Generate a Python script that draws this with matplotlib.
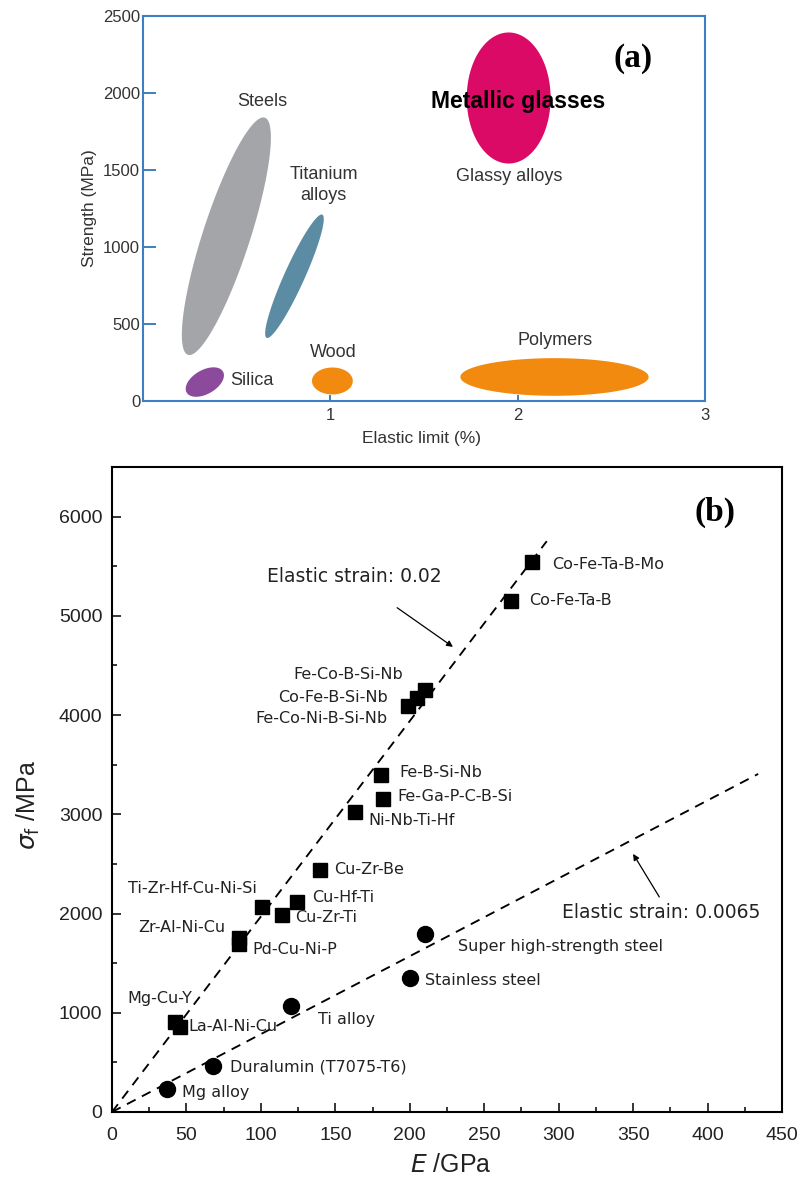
import matplotlib
matplotlib.use("Agg")
import matplotlib.pyplot as plt
import numpy as np

# ---- panel (a): material regions, elastic limit (%) vs strength (MPa)
region_names = ["Steels", "Titanium alloys", "Silica", "Wood", "Polymers", "Metallic glasses"]
region_start = [(0.24, 300), (0.66, 410), (0.233, 55), (0.902, 130), (1.694, 156), (1.952, 1542)]
region_end = [(0.65, 1840), (0.957, 1210), (0.427, 191), (1.120, 130), (2.699, 156), (1.952, 2393)]
region_aspect = [0.19, 0.15, 0.57, 0.66, 0.20, 0.64]
region_colors = ["#a3a5a8", "#5b8ca3", "#8b4a9c", "#f28a0f", "#f28a0f", "#dc0a67"]

# ---- panel (b): Young's modulus (GPa) vs fracture strength (MPa)
bmg_names = ["Co-Fe-Ta-B-Mo", "Co-Fe-Ta-B", "Fe-Co-B-Si-Nb", "Co-Fe-B-Si-Nb",
             "Fe-Co-Ni-B-Si-Nb", "Fe-B-Si-Nb", "Fe-Ga-P-C-B-Si", "Ni-Nb-Ti-Hf",
             "Cu-Zr-Be", "Cu-Hf-Ti", "Cu-Zr-Ti", "Ti-Zr-Hf-Cu-Ni-Si",
             "Zr-Al-Ni-Cu", "Pd-Cu-Ni-P", "Mg-Cu-Y", "La-Al-Ni-Cu"]
bmg_E = [282, 268, 210, 205, 199, 181, 182, 163, 140, 124, 114, 101, 85, 85, 42, 46]
bmg_sigma = [5540, 5150, 4250, 4170, 4090, 3400, 3155, 3025, 2440, 2120, 1990, 2070,
             1755, 1695, 910, 860]

crys_names = ["Super high-strength steel", "Stainless steel", "Ti alloy",
              "Duralumin (T7075-T6)", "Mg alloy"]
crys_E = [210, 200, 120, 68, 37]
crys_sigma = [1795, 1350, 1070, 465, 230]

# strain lines as drawn (MPa per GPa) and their E range
line_labels = ["Elastic strain: 0.02", "Elastic strain: 0.0065"]
line_slope = [19.7, 7.85]
line_E_max = [292, 434]

A_TEXT = "#333333"
A_BLUE = "#3d7fc0"

fig = plt.figure(figsize=(8, 11.82), dpi=100)

# ================= (a)
ax = fig.add_axes([143 / 800, 1 - 401 / 1182, 562 / 800, 385 / 1182])
ax.set_xlim(0, 3)
ax.set_ylim(0, 2500)


def draw_region(ax, p1, p2, ratio, color):
    d1, d2 = ax.transData.transform([p1, p2])
    c = (d1 + d2) / 2
    u = (d2 - d1) / 2
    v = np.array([-u[1], u[0]]) * ratio
    t = np.linspace(0, 2 * np.pi, 240)
    pts = c + np.outer(np.cos(t), u) + np.outer(np.sin(t), v)
    dpts = ax.transData.inverted().transform(pts)
    ax.fill(dpts[:, 0], dpts[:, 1], color=color, lw=0, zorder=2)


for p1, p2, r, col in zip(region_start, region_end, region_aspect, region_colors):
    draw_region(ax, p1, p2, r, col)

lab = dict(family="Liberation Sans", fontsize=13, color=A_TEXT)
ax.text(0.638, 1948, "Steels", ha="center", va="center", **lab)
ax.text(0.963, 1403, "Titanium\nalloys", ha="center", va="center", linespacing=1.3, **lab)
ax.text(0.463, 130, "Silica", ha="left", va="center", **lab)
ax.text(1.016, 318, "Wood", ha="center", va="center", **lab)
ax.text(2.202, 390, "Polymers", ha="center", va="center", **lab)
ax.text(1.957, 1461, "Glassy alloys", ha="center", va="center", **lab)
ax.text(2.0, 1942, "Metallic glasses", ha="center", va="center", family="Liberation Sans",
        fontsize=16.5, fontweight="bold", color="black", zorder=3)
ax.text(2.617, 2221, "(a)", ha="center", va="center", family="Liberation Serif",
        fontsize=24, fontweight="bold", color="black")

ax.set_xticks([1, 2, 3])
ax.set_yticks(np.arange(0, 2501, 500))
ax.tick_params(axis="y", direction="in", length=9.4, width=1.4, color=A_BLUE,
               labelsize=12, labelcolor=A_TEXT, pad=2)
ax.tick_params(axis="x", direction="in", length=4.3, width=1.4, color=A_BLUE,
               labelsize=12, labelcolor=A_TEXT, pad=5)
for lbl in ax.get_xticklabels() + ax.get_yticklabels():
    lbl.set_family("Liberation Sans")
for s in ax.spines.values():
    s.set_color(A_BLUE)
    s.set_linewidth(1.5)
ax.set_xlabel("Elastic limit (%)", family="Liberation Sans", fontsize=12.5, color=A_TEXT)
ax.set_ylabel("Strength (MPa)", family="Liberation Sans", fontsize=12.5, color=A_TEXT)
ax.xaxis.set_label_coords(0.495, -0.078)
ax.yaxis.set_label_coords(-0.082, 0.5)

# ================= (b)
bx = fig.add_axes([112 / 800, 1 - 1112 / 1182, 670 / 800, 645 / 1182])
bx.set_xlim(0, 450)
bx.set_ylim(0, 6500)

for k, emax in zip(line_slope, line_E_max):
    e = np.array([0, emax])
    bx.plot(e, k * e, color="black", lw=1.35, dashes=(5.2, 3.8), zorder=2)

bx.plot(bmg_E, bmg_sigma, ls="none", marker="s", ms=9.4, color="black", zorder=3)
bx.plot(crys_E, crys_sigma, ls="none", marker="o", ms=11.5, color="black", zorder=3)

# label offsets in pixels from each marker
bmg_offsets = {
    "Co-Fe-Ta-B-Mo": (20, -2, "left"), "Co-Fe-Ta-B": (18, 0, "left"),
    "Fe-Co-B-Si-Nb": (-22, 16, "right"), "Co-Fe-B-Si-Nb": (-29, 1, "right"),
    "Fe-Co-Ni-B-Si-Nb": (-21, -12, "right"), "Fe-B-Si-Nb": (18, 2, "left"),
    "Fe-Ga-P-C-B-Si": (14, 2, "left"), "Ni-Nb-Ti-Hf": (14, -9, "left"),
    "Cu-Zr-Be": (14, 0, "left"), "Cu-Hf-Ti": (16, 4, "left"),
    "Cu-Zr-Ti": (13, -3, "left"), "Ti-Zr-Hf-Cu-Ni-Si": (-6, 18, "right"),
    "Zr-Al-Ni-Cu": (-13, 10, "right"), "Pd-Cu-Ni-P": (14, -6, "left"),
    "Mg-Cu-Y": (18, 23, "right"), "La-Al-Ni-Cu": (8, 0, "left"),
}
crys_offsets = {
    "Super high-strength steel": (33, -13), "Stainless steel": (15, -2),
    "Ti alloy": (27, -14), "Duralumin (T7075-T6)": (17, -1), "Mg alloy": (15, -3),
}
ptxt = dict(family="DejaVu Sans", fontsize=11.5, color="#222222", va="center")
for name, e, s in zip(bmg_names, bmg_E, bmg_sigma):
    dx, dy, ha = bmg_offsets[name]
    bx.annotate(name, (e, s), xytext=(dx, dy), textcoords="offset pixels", ha=ha, **ptxt)
for name, e, s in zip(crys_names, crys_E, crys_sigma):
    dx, dy = crys_offsets[name]
    bx.annotate(name, (e, s), xytext=(dx, dy), textcoords="offset pixels", ha="left", **ptxt)

arrow = dict(arrowstyle="-|>", color="black", lw=0.9, mutation_scale=9, shrinkA=0, shrinkB=0)
bx.annotate("", xy=(229, 4687), xytext=(191.5, 5082), arrowprops=arrow)
bx.annotate("", xy=(350, 2601), xytext=(367.6, 2167), arrowprops=arrow)
stxt = dict(family="DejaVu Sans", fontsize=13.5, color="#222222", va="center", ha="left")
bx.text(104, 5393, line_labels[0], **stxt)
bx.text(302, 2006, line_labels[1], **stxt)
bx.text(405, 6040, "(b)", ha="center", va="center", family="Liberation Serif",
        fontsize=24, fontweight="bold", color="black")

bx.set_xticks(np.arange(0, 451, 50))
bx.set_xticks(np.arange(25, 450, 50), minor=True)
bx.set_yticks(np.arange(0, 6001, 1000))
bx.set_yticks(np.arange(500, 6500, 1000), minor=True)
bx.tick_params(which="major", direction="in", length=6.5, width=1.1, labelsize=14,
               labelcolor="#222222")
bx.tick_params(which="minor", direction="in", length=3.6, width=1.1)
bx.tick_params(axis="x", which="major", pad=11)
bx.tick_params(axis="y", which="major", pad=7)
for lbl in bx.get_xticklabels() + bx.get_yticklabels():
    lbl.set_family("Liberation Sans")
for s in bx.spines.values():
    s.set_linewidth(1.5)

plt.rcParams["mathtext.fontset"] = "custom"
plt.rcParams["mathtext.rm"] = "Liberation Sans"
plt.rcParams["mathtext.it"] = "Liberation Sans:italic"
bx.set_xlabel(r"$E$ /GPa", family="Liberation Sans", fontsize=18, color="#222222")
bx.set_ylabel(r"$\sigma_\mathrm{f}$ /MPa", family="Liberation Sans", fontsize=18,
              color="#222222")
bx.xaxis.set_label_coords(0.505, -0.064)
bx.yaxis.set_label_coords(-0.104, 0.476)

fig.savefig("out.png", dpi=100)
